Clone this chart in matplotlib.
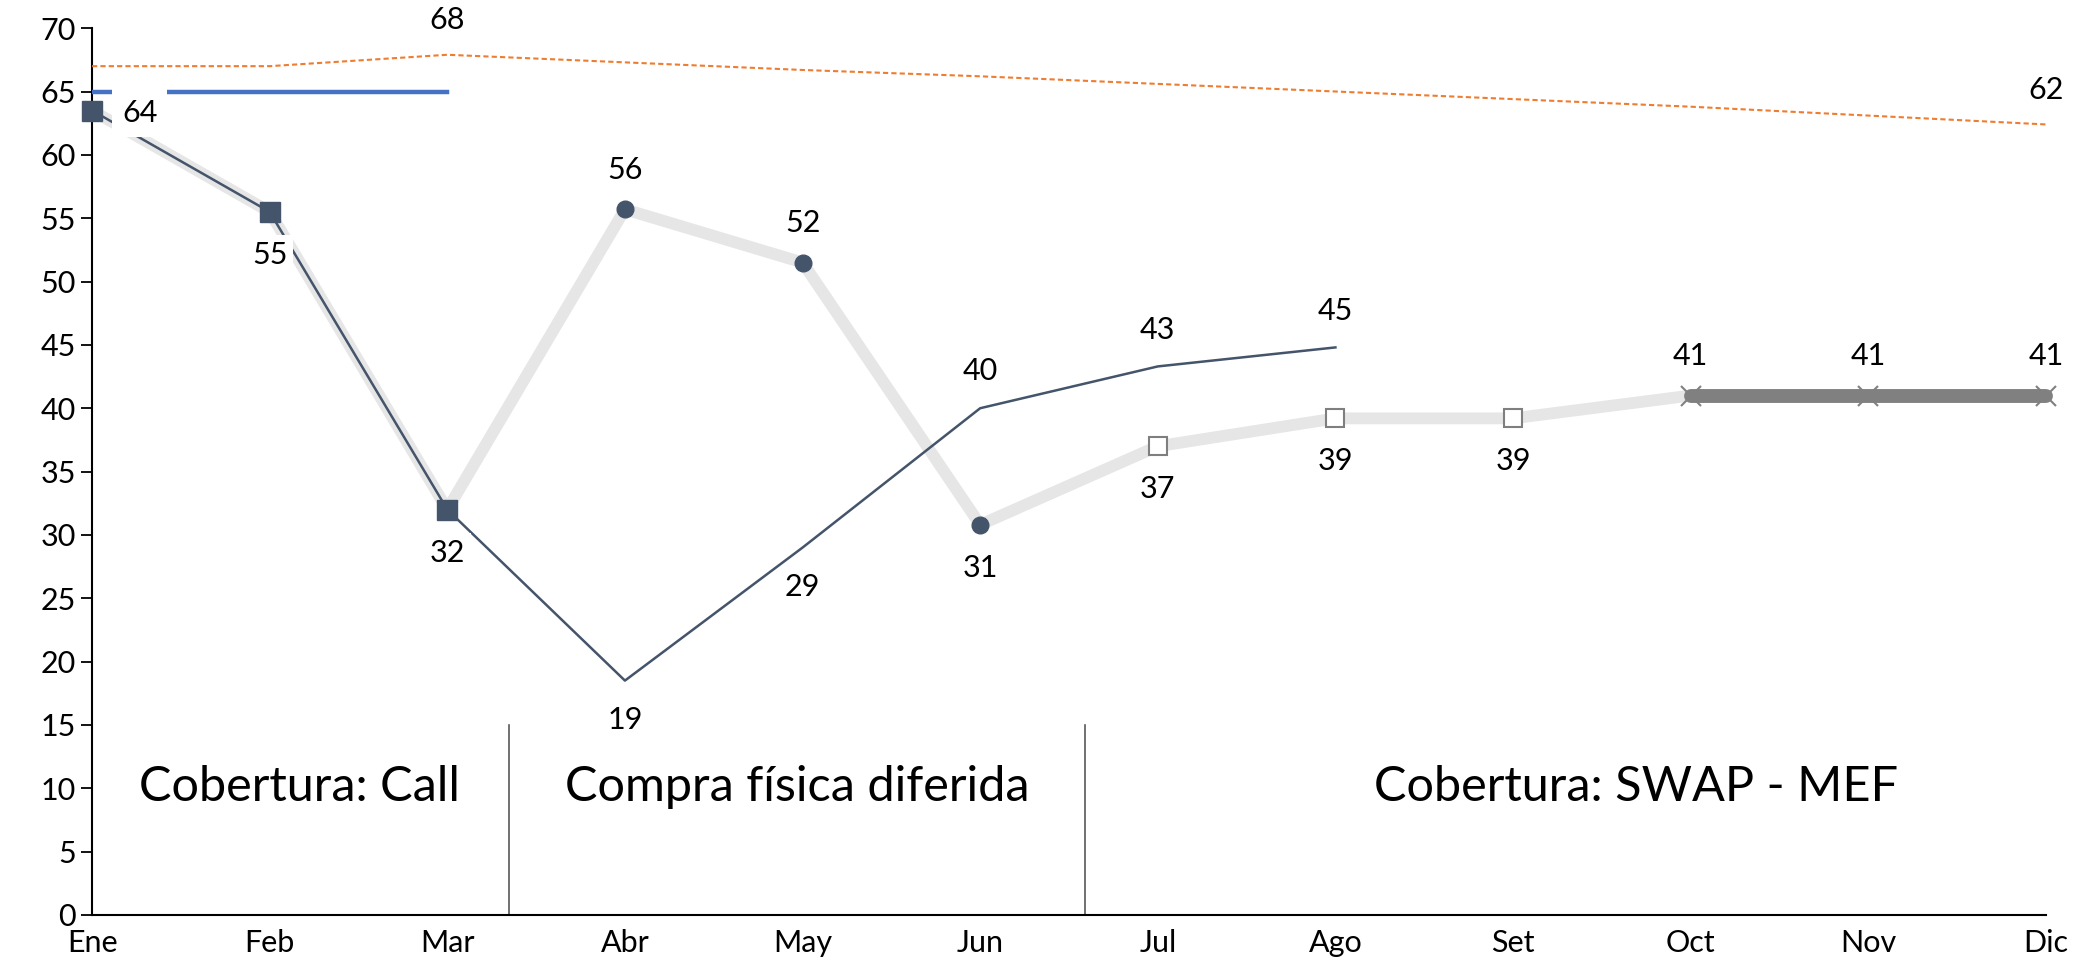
import matplotlib.pyplot as plt

plt.rcParams['font.family'] = ['Lato', 'DejaVu Sans']

meses = ['Ene', 'Feb', 'Mar', 'Abr', 'May', 'Jun', 'Jul', 'Ago', 'Set', 'Oct', 'Nov', 'Dic']
x = list(range(len(meses)))

# precio de referencia (banda gris gruesa)
precio = [63.5, 55.5, 32.0, 55.7, 51.5, 30.8, 37.0, 39.2, 39.2, 41.0, 41.0, 41.0]
precio_lbl = ['64', '55', '32', '56', '52', '31', '37', '39', '39', '41', '41', '41']

# serie real (linea fina oscura)
real = [63.5, 55.5, 32.0, 18.5, 29.0, 40.0, 43.3, 44.8]
real_lbl = ['19', '29', '40', '43', '45']  # Abr..Ago

# strike call
strike = [65, 65, 65]

# presupuesto (linea naranja punteada)
ppto = [67.0, 67.0, 67.9, 67.3, 66.7, 66.2, 65.6, 65.0, 64.4, 63.8, 63.1, 62.4]

# tramos
tramos = ['Cobertura: Call', 'Compra física diferida', 'Cobertura: SWAP - MEF']
tramo_pos = [1.17, 3.97, 8.69]
separadores = [2.35, 5.59]

oscuro = '#44546a'

fig = plt.figure(figsize=(20.83, 9.71), dpi=100)
ax = fig.add_axes([0.0442, 0.0577, 0.938, 0.9133])

# banda gris clara Ene-Oct y gris oscura Oct-Dic
ax.plot(x[:10], precio[:10], color='#e6e6e6', lw=8.5, solid_capstyle='round', zorder=2,
        clip_on=False)
ax.plot(x[9:], precio[9:], color='#808080', lw=10, solid_capstyle='round', zorder=3,
        marker='x', ms=14, mew=1.5, mec='#808080', clip_on=False)

# linea real
ax.plot(x[:len(real)], real, color=oscuro, lw=1.8, zorder=4, clip_on=False)

# marcadores
ax.plot(x[0:3], precio[0:3], ls='none', marker='s', ms=14, color=oscuro, zorder=7, clip_on=False)
ax.plot(x[3:6], precio[3:6], ls='none', marker='o', ms=12, color=oscuro, zorder=5)
ax.plot(x[6:9], precio[6:9], ls='none', marker='s', ms=13, mfc='white', mec='#7f7f7f',
        mew=1.5, zorder=5)

# strike y presupuesto
ax.plot(x[:3], strike, color='#4472c4', lw=3.2, zorder=3)
ax.plot(x, ppto, color='#ed7d31', lw=1.5, ls=(0, (2.5, 1.5)), zorder=3)

# etiquetas de datos
fs = 22
box = dict(facecolor='white', edgecolor='none', pad=4)
ax.text(x[0] + 0.17, precio[0] - 0.2, precio_lbl[0], fontsize=fs, ha='left', va='center',
        bbox=dict(facecolor='white', edgecolor='none', pad=7), zorder=6)
bajo = [1, 2, 5, 6, 7, 8]
for i in range(1, 12):
    if i in bajo:
        ax.text(x[i], precio[i] - 2.3, precio_lbl[i], fontsize=fs, ha='center', va='top',
                bbox=box, zorder=6)
    else:
        ax.text(x[i], precio[i] + 2.0, precio_lbl[i], fontsize=fs, ha='center', va='bottom', zorder=6)

for j, lbl in enumerate(real_lbl):
    i = j + 3
    if i in (3, 4):
        ax.text(x[i], real[i] - 2.0, lbl, fontsize=fs, ha='center', va='top', zorder=6)
    else:
        ax.text(x[i], real[i] + 1.8, lbl, fontsize=fs, ha='center', va='bottom', zorder=6)

ax.text(x[2], ppto[2] + 1.6, '68', fontsize=fs, ha='center', va='bottom', zorder=6)
ax.text(x[11], ppto[11] + 1.6, '62', fontsize=fs, ha='center', va='bottom', zorder=6)

# separadores y textos de tramos
for s in separadores:
    ax.plot([s, s], [0, 15], color='#595959', lw=1.2)
for t, p in zip(tramos, tramo_pos):
    ax.text(p, 10.1, t, fontsize=35, ha='center', va='center')

ax.set_xlim(0, 11)
ax.set_ylim(0, 70)
ax.set_yticks(range(0, 71, 5))
ax.set_xticks(x)
ax.set_xticklabels(meses)
ax.tick_params(axis='y', labelsize=22, length=8, width=1.3, direction='out')
ax.tick_params(axis='x', labelsize=22, length=0, pad=10)
for sp in ['top', 'right']:
    ax.spines[sp].set_visible(False)
for sp in ['left', 'bottom']:
    ax.spines[sp].set_linewidth(1.5)
ax.spines['bottom'].set_bounds(0, 11)

fig.savefig('out.png', dpi=100)
